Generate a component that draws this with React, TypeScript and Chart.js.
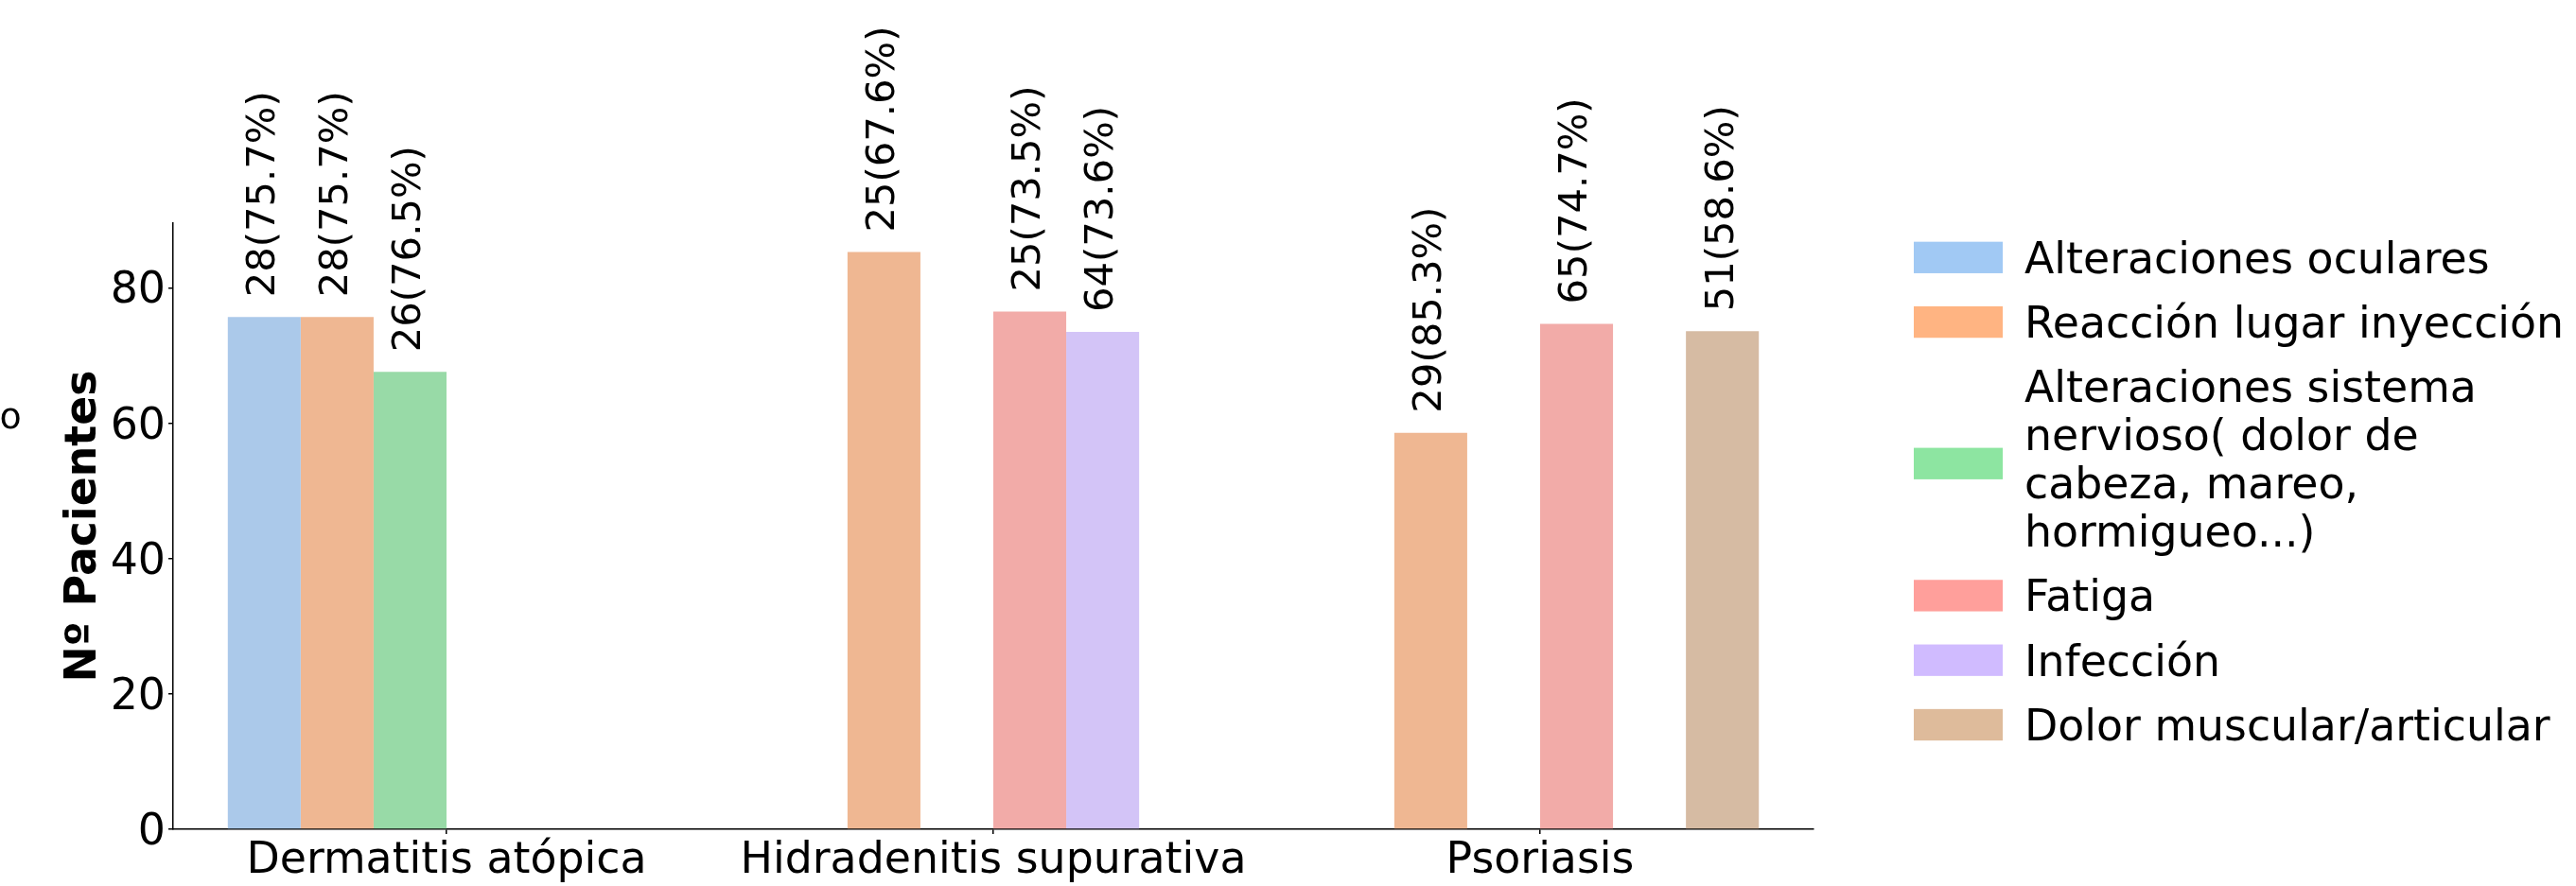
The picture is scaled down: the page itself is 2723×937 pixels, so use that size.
import React, { useEffect, useRef } from "react";
import { Chart, registerables } from "chart.js";

Chart.register(...registerables);

// ---------- DATA ----------
const CATEGORIES = ["Dermatitis atópica", "Hidradenitis supurativa", "Psoriasis"];

const SERIES_NAMES = [
  "Alteraciones oculares",
  "Reacción lugar inyección",
  "Alteraciones sistema nervioso( dolor de cabeza, mareo, hormigueo...)",
  "Fatiga",
  "Infección",
  "Dolor muscular/articular",
];

const LEGEND_LINES = [
  ["Alteraciones oculares"],
  ["Reacción lugar inyección"],
  ["Alteraciones sistema", "nervioso( dolor de", "cabeza, mareo,", "hormigueo...)"],
  ["Fatiga"],
  ["Infección"],
  ["Dolor muscular/articular"],
];

const OCULARES = [75.7, null, null];
const REACCION = [75.7, 85.3, 58.6];
const NERVIOSO = [67.6, null, null];
const FATIGA = [null, 76.5, 74.7];
const INFECCION = [null, 73.5, null];
const DOLOR = [null, null, 73.6];

const OCULARES_LABELS = ["28(75.7%)", null, null];
const REACCION_LABELS = ["28(75.7%)", "25(67.6%)", "29(85.3%)"];
const NERVIOSO_LABELS = ["26(76.5%)", null, null];
const FATIGA_LABELS = [null, "25(73.5%)", "65(74.7%)"];
const INFECCION_LABELS = [null, "64(73.6%)", null];
const DOLOR_LABELS = [null, null, "51(58.6%)"];

const Y_MAX = 89.57;
const Y_STEP = 20;
const Y_TITLE = "Nº Pacientes";
const STRAY_TEXT = "o";

// bar colours (desaturated pastel) and legend colours (pastel)
const BAR_COLORS = ["#abc9ea", "#efb792", "#98daa7", "#f2aba8", "#d3c4f7", "#d6bba3"];
const LEGEND_COLORS = ["#a1c9f4", "#ffb482", "#8de5a1", "#ff9f9b", "#d0bbff", "#debb9b"];

const SERIES_VALUES = [OCULARES, REACCION, NERVIOSO, FATIGA, INFECCION, DOLOR];
const SERIES_LABELS = [
  OCULARES_LABELS,
  REACCION_LABELS,
  NERVIOSO_LABELS,
  FATIGA_LABELS,
  INFECCION_LABELS,
  DOLOR_LABELS,
];

const FONT = "DejaVu Sans";

const barLabelPlugin = {
  id: "barLabels",
  afterDatasetsDraw(chart: any) {
    const ctx = chart.ctx;
    ctx.save();
    ctx.font = `41.7px "${FONT}"`;
    ctx.fillStyle = "#000";
    ctx.textAlign = "left";
    ctx.textBaseline = "middle";
    chart.data.datasets.forEach((ds: any, i: number) => {
      const meta = chart.getDatasetMeta(i);
      const labels = SERIES_LABELS[i];
      meta.data.forEach((el: any, j: number) => {
        const txt = labels[j];
        if (!txt || ds.data[j] == null) return;
        ctx.save();
        ctx.translate(el.x, el.y - 21);
        ctx.rotate(-Math.PI / 2);
        ctx.fillText(txt, 0, 0);
        ctx.restore();
      });
    });
    ctx.restore();
  },
};

const legendPlugin = {
  id: "customLegend",
  afterDraw(chart: any) {
    const ctx = chart.ctx;
    const area = chart.chartArea;
    const patchX = area.right + 106;
    const patchW = 94;
    const patchH = 33.3;
    const textX = area.right + 223;
    const rowPitch = 68.3;
    const linePitch = 50.9;
    ctx.save();
    ctx.font = `45.8px "${FONT}"`;
    ctx.fillStyle = "#000";
    ctx.textAlign = "left";
    ctx.textBaseline = "alphabetic";
    let center = 272.3;
    let prevHalfExtra = 0;
    LEGEND_LINES.forEach((lines, i) => {
      const halfExtra = ((lines.length - 1) * linePitch) / 2;
      if (i > 0) center += prevHalfExtra + rowPitch + halfExtra;
      prevHalfExtra = halfExtra;
      const patchCenter = lines.length > 1 ? center + 5 : center;
      ctx.fillStyle = LEGEND_COLORS[i];
      ctx.fillRect(patchX, patchCenter - patchH / 2, patchW, patchH);
      ctx.fillStyle = "#000";
      const firstBaseline = center + 16.3 - halfExtra;
      lines.forEach((ln, k) => {
        ctx.fillText(ln, textX, firstBaseline + k * linePitch);
      });
    });
    // stray clipped glyph at far left
    ctx.font = `38px "${FONT}"`;
    ctx.textAlign = "center";
    ctx.fillText(STRAY_TEXT, 11, 453);
    ctx.restore();
  },
};

export default function App() {
  const canvasRef = useRef<HTMLCanvasElement | null>(null);

  useEffect(() => {
    document.body.style.margin = "0";
    const canvas = canvasRef.current;
    if (!canvas) return;
    const chart = new Chart(canvas, {
      type: "bar",
      data: {
        labels: CATEGORIES,
        datasets: SERIES_VALUES.map((vals, i) => ({
          label: SERIES_NAMES[i],
          data: vals,
          backgroundColor: BAR_COLORS[i],
          borderWidth: 0,
          categoryPercentage: 0.8,
          barPercentage: 1.0,
        })),
      },
      options: {
        responsive: false,
        animation: false,
        devicePixelRatio: 1,
        layout: { padding: { left: 0, top: 236, right: 806, bottom: 0 } },
        plugins: {
          legend: { display: false },
          tooltip: { enabled: false },
          title: { display: false },
        },
        scales: {
          x: {
            offset: true,
            afterFit: (s: any) => {
              s.height = 60;
            },
            grid: {
              display: true,
              offset: false,
              drawOnChartArea: false,
              drawTicks: true,
              tickLength: 5,
              color: "#000",
              lineWidth: 1.5,
            },
            border: { display: true, color: "#000", width: 1.5 },
            ticks: {
              color: "#000",
              font: { family: FONT, size: 45.8 },
              padding: 2,
              maxRotation: 0,
              autoSkip: false,
            },
          },
          y: {
            min: 0,
            max: Y_MAX,
            afterFit: (s: any) => {
              s.width = 183;
            },
            grid: {
              display: true,
              drawOnChartArea: false,
              drawTicks: true,
              tickLength: 5,
              color: "#000",
              lineWidth: 1.5,
            },
            border: { display: true, color: "#000", width: 1.5 },
            ticks: {
              stepSize: Y_STEP,
              includeBounds: false,
              color: "#000",
              font: { family: FONT, size: 45.8 },
              padding: 3,
              labelOffset: 4,
            },
            title: {
              display: true,
              text: Y_TITLE,
              color: "#000",
              font: { family: FONT, size: 45.8, weight: "bold" },
              padding: { top: 62, bottom: 0 },
            },
          },
        },
      },
      plugins: [barLabelPlugin, legendPlugin],
    });
    return () => chart.destroy();
  }, []);

  return (
    <canvas
      ref={canvasRef}
      width={2723}
      height={937}
      style={{ display: "block", width: 2723, height: 937 }}
    />
  );
}
